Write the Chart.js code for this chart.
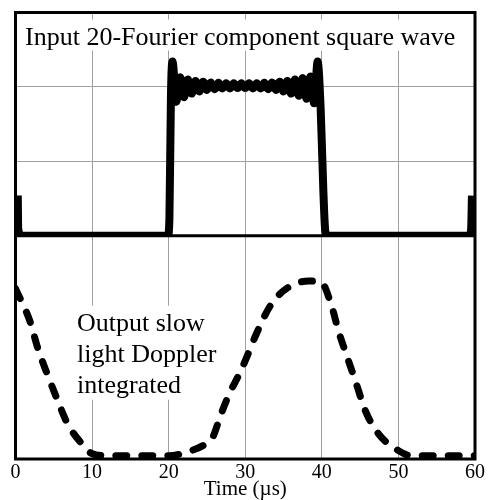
<!DOCTYPE html>
<html>
<head>
<meta charset="utf-8">
<script src="https://cdn.jsdelivr.net/npm/chart.js@4.4.1/dist/chart.umd.min.js"></script>
<style>
  html, body { margin: 0; padding: 0; background: #fff; }
  #wrap { width: 489px; height: 500px; }
</style>
</head>
<body>
<div id="wrap"><canvas id="chart"></canvas></div>
<script>
// input: 20-component Fourier square wave
const inputTime = [0.3, 0.35, 0.7, 19.9, 20.1, 20.3, 20.5, 21.0, 21.5, 22.0, 22.5, 23.0, 23.5, 24.0, 24.5,
  25.0, 25.5, 26.0, 26.5, 27.0, 27.5, 28.0, 28.5, 29.0, 29.5, 30.0, 30.5, 31.0, 31.5, 32.0, 32.5, 33.0,
  33.5, 34.0, 34.5, 35.0, 35.5, 36.0, 36.5, 37.0, 37.5, 38.0, 38.5, 39.0, 39.45, 39.85, 40.2, 40.45,
  40.7, 59.3, 59.5, 59.6];
const inputLevel = [0.27, 0.05, 0, 0, 0.12, 0.95, 1.17, 0.90, 1.065, 0.93, 1.05, 0.955, 1.04, 0.97, 1.035,
  0.98, 1.03, 0.985, 1.028, 0.99, 1.025, 0.99, 1.025, 0.992, 1.025, 0.992, 1.025, 0.99, 1.025, 0.99, 1.028, 0.985,
  1.03, 0.98, 1.035, 0.97, 1.04, 0.955, 1.05, 0.94, 1.06, 0.92, 1.07, 0.89, 1.17, 0.85, 0.3, 0.03,
  0, 0, 0.05, 0.27];

// output: slow light Doppler integrated (lower panel)
const outputTime = [0, 1.9, 2.9, 4.1, 5.4, 6.8, 8.65, 9.95, 12, 16, 20, 22.7, 24.9, 25.7, 26.85, 27.9,
  29.2, 30.1, 31.4, 33.35, 35.7, 38.3, 39.9, 41.2, 42.2, 43.2, 44.4, 45.7, 47.4, 50.0, 51.7, 55, 60];
const outputLevel = [0.76, 0.61, 0.49, 0.375, 0.26, 0.145, 0.055, 0.01, 0, 0, 0, 0.02, 0.055, 0.08, 0.19, 0.28,
  0.37, 0.44, 0.55, 0.686, 0.767, 0.794, 0.789, 0.69, 0.564, 0.46, 0.338, 0.203, 0.099, 0.023, 0, 0, 0];

const timeTicks = [0, 10, 20, 30, 40, 50, 60];
const inputTicks = [0, 0.5, 1.0, 1.5];
const inputLabel = "Input 20-Fourier component square wave";
const outputLabel = ["Output slow", "light Doppler", "integrated"];
const xTitle = "Time (µs)";

const serif = "'Liberation Serif', 'Times New Roman', serif";
Chart.defaults.font.family = serif;
Chart.defaults.color = "#000";

const toPoints = (xs, ys) => xs.map((x, i) => ({ x: x, y: ys[i] }));

const panelText = {
  id: "panelText",
  beforeDatasetsDraw(chart) {
    const { ctx, chartArea: a, scales } = chart;
    ctx.save();
    ctx.font = "26px " + serif;
    ctx.textBaseline = "alphabetic";
    // top label
    let w = ctx.measureText(inputLabel).width;
    ctx.fillStyle = "#fff";
    ctx.fillRect(a.left + 7, a.top + 7, w + 6, 31);
    ctx.fillStyle = "#000";
    ctx.fillText(inputLabel, a.left + 9.5, a.top + 32.5);
    // bottom label
    const t = scales.yOut.top;
    w = Math.max(...outputLabel.map(s => ctx.measureText(s).width));
    ctx.fillStyle = "#fff";
    ctx.fillRect(a.left + 58, t + 70, w + 6, 94);
    ctx.fillStyle = "#000";
    outputLabel.forEach((s, i) => ctx.fillText(s, a.left + 61.5, t + 95 + i * 31));
    ctx.restore();
  },
  afterDatasetsDraw(chart) {
    const { ctx, chartArea: a, scales } = chart;
    ctx.save();
    ctx.strokeStyle = "#000";
    ctx.lineWidth = 3;
    ctx.strokeRect(a.left, a.top, a.right - a.left, a.bottom - a.top);
    ctx.beginPath();
    ctx.moveTo(a.left, scales.yIn.bottom);
    ctx.lineTo(a.right, scales.yIn.bottom);
    ctx.stroke();
    ctx.restore();
  }
};

new Chart(document.getElementById("chart"), {
  type: "line",
  data: {
    datasets: [
      {
        data: toPoints(inputTime, inputLevel),
        yAxisID: "yIn",
        borderColor: "#000",
        borderWidth: 8,
        pointRadius: 0,
        cubicInterpolationMode: "monotone",
        borderJoinStyle: "round",
        fill: false
      },
      {
        data: toPoints(outputTime, outputLevel),
        yAxisID: "yOut",
        borderColor: "#000",
        borderWidth: 7,
        borderDash: [11, 15],
        borderCapStyle: "round",
        pointRadius: 0,
        cubicInterpolationMode: "monotone",
        fill: false
      }
    ]
  },
  options: {
    responsive: true,
    maintainAspectRatio: false,
    animation: false,
    layout: { padding: { left: 15.5, right: 12, top: 12.5, bottom: 0 } },
    plugins: { legend: { display: false }, tooltip: { enabled: false } },
    scales: {
      x: {
        type: "linear",
        min: 0,
        max: 60,
        afterBuildTicks: s => { s.ticks = timeTicks.map(v => ({ value: v })); },
        grid: { color: "#a0a0a0", lineWidth: 1, drawTicks: false },
        border: { display: false },
        ticks: { font: { size: 20, lineHeight: 1.0 }, padding: 4, maxRotation: 0 },
        title: { display: true, text: xTitle, font: { size: 21, lineHeight: 1.0 }, padding: { top: -8, bottom: 0 } }
      },
      // lower panel first: stacked scales are placed bottom-up
      yOut: {
        type: "linear",
        position: "left",
        stack: "panels",
        stackWeight: 1,
        min: -0.015,
        max: 1,
        grid: { display: false, drawTicks: false },
        border: { display: false },
        ticks: { display: false }
      },
      yIn: {
        type: "linear",
        position: "left",
        stack: "panels",
        stackWeight: 1,
        min: 0,
        max: 1.5,
        afterBuildTicks: s => { s.ticks = inputTicks.map(v => ({ value: v })); },
        grid: { color: "#a0a0a0", lineWidth: 1, drawTicks: false },
        border: { display: false },
        ticks: { display: false }
      }
    }
  },
  plugins: [panelText]
});
</script>
</body>
</html>
